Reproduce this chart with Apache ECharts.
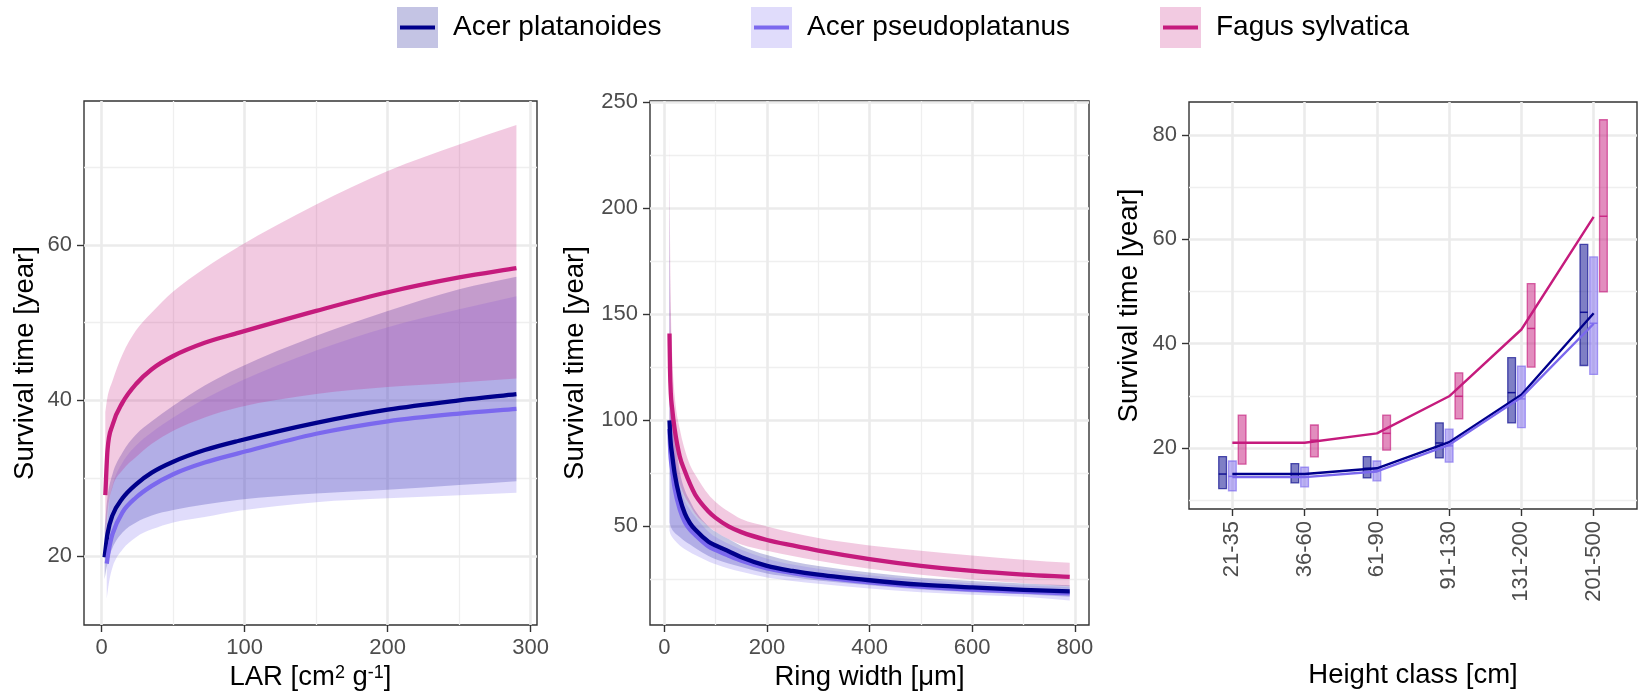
<!DOCTYPE html>
<html><head><meta charset="utf-8">
<script src="https://cdn.jsdelivr.net/npm/echarts@6/dist/echarts.min.js"></script>
<style>html,body{margin:0;padding:0;background:#fff}#c{width:1644px;height:696px}</style>
</head><body><div id="c"></div>
<script>
// ---------------- DATA ----------------
const species = ['Acer platanoides', 'Acer pseudoplatanus', 'Fagus sylvatica'];
const speciesColors = ['#00008B', '#7B68EE', '#C51B7D'];

// Panel 1: survival time vs LAR
const larX_AP   = [2, 4, 7.5, 14.5, 24, 35, 50, 72, 96, 150, 200, 250, 290];
const larFit_AP = [19.8, 22.8, 25.2, 27.4, 29.2, 30.7, 32.1, 33.6, 34.8, 37.1, 38.8, 40.0, 40.8];
const larLow_AP = [17.0, 19.0, 21.0, 23.0, 24.3, 25.2, 25.9, 26.6, 27.2, 28.0, 28.5, 29.1, 29.6];
const larUpp_AP = [23.5, 27.5, 30.5, 33.3, 35.6, 37.3, 39.3, 41.9, 44.2, 48.3, 51.5, 54.3, 55.9];

const larX_PS   = [3.5, 5, 7.5, 14.5, 24, 35, 50, 72, 96, 150, 200, 250, 290];
const larFit_PS = [19.0, 20.8, 22.8, 25.6, 27.5, 29.0, 30.5, 32.0, 33.2, 35.7, 37.3, 38.3, 38.9];
const larLow_PS = [14.5, 16.5, 18.5, 20.8, 22.4, 23.4, 24.3, 25.0, 25.8, 26.9, 27.4, 27.8, 28.1];
const larUpp_PS = [22.0, 26.5, 29.0, 32.0, 34.2, 35.9, 37.8, 40.2, 42.4, 46.4, 49.4, 51.7, 53.4];

const larX_FS   = [2.5, 4, 7.5, 14.5, 24, 35, 50, 72, 96, 150, 200, 250, 290];
const larFit_FS = [27.8, 33.5, 36.8, 39.7, 42.1, 44.0, 45.7, 47.4, 48.7, 51.5, 53.9, 55.8, 57.0];
const larLow_FS = [21.5, 25.5, 28.8, 31.0, 32.7, 34.4, 36.1, 37.8, 39.1, 40.8, 41.7, 42.3, 42.8];
const larUpp_FS = [38.5, 40.4, 42.5, 45.9, 49.0, 51.3, 54.0, 57.0, 59.8, 65.2, 69.5, 72.9, 75.4];

// Panel 2: survival time vs ring width
const ringX      = [10, 11, 12.5, 15, 20, 30, 40, 50, 60, 86, 100, 125, 150, 200, 250, 300, 400, 500, 600, 700, 790];
const ringFit_AP = [100, 94, 89, 84, 75, 63.5, 56, 51.5, 48.5, 42.8, 41, 38.3, 35.5, 31.4, 29, 27.2, 24.6, 22.5, 21.2, 20.1, 19.4];
const ringLow_AP = [52, 51, 50, 48.5, 47, 45, 43, 41.5, 39.8, 36, 34.5, 32.5, 30.8, 27.8, 26, 24.5, 22.2, 20.2, 19, 18, 16.8];
const ringUpp_AP = [225, 170, 135, 112, 95, 76, 67, 62, 57.5, 50, 47.5, 44, 40.8, 36.5, 33.5, 31.3, 28.2, 25.8, 24.3, 23.1, 22.3];
const ringFit_PS = [96, 88, 82, 77, 68, 58, 52, 48.5, 46, 40.5, 38.8, 36.2, 33.8, 30.2, 28, 26.2, 23.6, 21.6, 20.2, 19.2, 18.4];
const ringLow_PS = [48, 47, 46, 45, 43.5, 41, 39.2, 37.8, 36.5, 33.5, 32.2, 30.2, 28.6, 25.9, 24.3, 22.9, 20.7, 19, 17.8, 16.8, 15.1];
const ringUpp_PS = [200, 155, 125, 104, 88, 70, 62, 58, 54.5, 47.5, 45, 41.8, 39, 34.8, 32, 30, 27, 24.8, 23.2, 22.1, 21.3];
const ringFit_FS = [141, 124, 113, 106, 96, 83, 76, 70, 65, 57, 54, 50, 47.3, 43.6, 41, 38.6, 34.6, 31.4, 29, 27.3, 26.2];
const ringLow_FS = [88, 86, 84, 82, 78, 70, 64, 60, 56, 50, 47.5, 44, 41.5, 38.5, 36, 33.8, 30, 27.2, 25, 23.2, 21.8];
const ringUpp_FS = [238, 188, 155, 132, 112, 96, 86, 79, 74.5, 65, 61.5, 57, 53.5, 50, 47, 44.5, 41, 38.5, 36.3, 34.3, 32.8];

// Panel 3: survival time by height class
const heightClasses = ['21-35', '36-60', '61-90', '91-130', '131-200', '201-500'];
const hcMid_AP = [15.0, 15.0, 16.1, 20.95, 30.6, 46.0];
const hcLow_AP = [12.2, 13.3, 14.25, 18.1, 24.8, 35.8];
const hcUpp_AP = [18.35, 17.0, 18.35, 24.8, 37.3, 59.0];
const hcMid_PS = [14.55, 14.5, 15.7, 20.4, 29.4, 43.9];
const hcLow_PS = [11.8, 12.55, 13.7, 17.3, 23.9, 34.1];
const hcUpp_PS = [17.5, 16.3, 17.5, 23.6, 35.7, 56.6];
const hcMid_FS = [21.0, 21.5, 22.8, 29.9, 42.9, 64.4];
const hcLow_FS = [16.9, 18.3, 19.6, 25.6, 35.5, 49.9];
const hcUpp_FS = [26.3, 24.4, 26.3, 34.4, 51.5, 82.9];
const hcLine_AP = [15.0, 15.0, 16.1, 21.1, 30.2, 45.8];
const hcLine_PS = [14.4, 14.4, 15.5, 20.6, 29.7, 43.8];
const hcLine_FS = [21.0, 21.0, 22.8, 29.9, 42.7, 64.3];

// Tick labels
const larTicks = [0, 100, 200, 300], larMinor = [50, 150, 250];
const larYTicks = [20, 40, 60], larYMinor = [30, 50, 70];
const ringTicks = [0, 200, 400, 600, 800], ringMinor = [100, 300, 500, 700];
const ringYTicks = [50, 100, 150, 200, 250], ringYMinor = [25, 75, 125, 175, 225];
const hcTicks = [0, 1, 2, 3, 4, 5];
const hcYTicks = [20, 40, 60, 80], hcYMinor = [10, 30, 50, 70];

// ---------------- STYLE / LAYOUT ----------------
const FONT = 'Liberation Sans, Arial, Helvetica, sans-serif';
const RIBBON_A = 0.23, BAR_A = 0.5;
function rgba(hex, a) {
  const n = parseInt(hex.slice(1), 16);
  return `rgba(${(n >> 16) & 255},${(n >> 8) & 255},${n & 255},${a})`;
}

// monotone cubic (Fritsch-Carlson) tangents for pixel points with increasing x
function tangents(p) {
  const n = p.length, d = [], m = new Array(n);
  for (let k = 0; k < n - 1; k++) {
    const h = p[k + 1][0] - p[k][0];
    d.push(h === 0 ? 0 : (p[k + 1][1] - p[k][1]) / h);
  }
  m[0] = d[0]; m[n - 1] = d[n - 2];
  for (let k = 1; k < n - 1; k++) m[k] = (d[k - 1] * d[k] <= 0) ? 0 : (d[k - 1] + d[k]) / 2;
  for (let k = 0; k < n - 1; k++) {
    if (d[k] === 0) { m[k] = 0; m[k + 1] = 0; continue; }
    const a = m[k] / d[k], b = m[k + 1] / d[k], s = a * a + b * b;
    if (s > 9) { const t = 3 / Math.sqrt(s); m[k] = t * a * d[k]; m[k + 1] = t * b * d[k]; }
  }
  return m;
}
function curve(p, startCmd) {
  const m = tangents(p);
  let s = `${startCmd}${p[0][0]},${p[0][1]}`;
  for (let k = 0; k < p.length - 1; k++) {
    const h = p[k + 1][0] - p[k][0];
    s += ` C${p[k][0] + h / 3},${p[k][1] + m[k] * h / 3} ${p[k + 1][0] - h / 3},${p[k + 1][1] - m[k + 1] * h / 3} ${p[k + 1][0]},${p[k + 1][1]}`;
  }
  return { s, m };
}
function curveBack(p) {
  const m = tangents(p);
  const n = p.length;
  let s = ` L${p[n - 1][0]},${p[n - 1][1]}`;
  for (let k = n - 2; k >= 0; k--) {
    const h = p[k + 1][0] - p[k][0];
    s += ` C${p[k + 1][0] - h / 3},${p[k + 1][1] - m[k + 1] * h / 3} ${p[k][0] + h / 3},${p[k][1] + m[k] * h / 3} ${p[k][0]},${p[k][1]}`;
  }
  return s;
}

const grids = [
  { left: 84, top: 101, width: 453, height: 524 },
  { left: 650, top: 101, width: 439, height: 524 },
  { left: 1189, top: 102, width: 448, height: 407 }
].map(g => Object.assign({ show: true, borderColor: '#333333', borderWidth: 1.4, backgroundColor: 'transparent', containLabel: false, outerBoundsMode: 'none' }, g));

function majorAxis(gi, isX, min, max, ticks, extra) {
  const base = {
    type: 'value', gridIndex: gi, min: min, max: max,
    position: isX ? 'bottom' : 'left',
    axisLine: { show: false, onZero: false },
    axisTick: { show: true, length: 7, lineStyle: { color: '#333333', width: 1.4 }, customValues: ticks },
    axisLabel: { show: true, customValues: ticks, color: '#4D4D4D', fontSize: 22, fontFamily: FONT, margin: 12, showMinLabel: true, showMaxLabel: true },
    splitLine: { show: true, lineStyle: { color: '#EBEBEB', width: 2.6 } },
    minorSplitLine: { show: false },
    nameLocation: 'middle',
    nameTextStyle: { color: '#000000', fontSize: 27.5, fontFamily: FONT },
    silent: true, z: 1
  };
  return Object.assign(base, extra || {});
}
function minorAxis(gi, isX, min, max, ticks) {
  return {
    type: 'value', gridIndex: gi, min: min, max: max,
    position: isX ? 'top' : 'right',
    axisLine: { show: false, onZero: false },
    axisTick: { show: false, customValues: ticks },
    axisLabel: { show: false, customValues: ticks },
    splitLine: { show: true, lineStyle: { color: '#EFEFEF', width: 1.3 } },
    silent: true, z: 0
  };
}

const xAxes = [
  majorAxis(0, true, -12.4, 304.4, larTicks, {
    name: '{t|LAR [cm}{s|2}{t| g}{s|-1}{t|]}', nameGap: 37,
    nameTextStyle: { color: '#000', fontSize: 27.5, fontFamily: FONT,
      rich: { t: { fontSize: 27.5, fontFamily: FONT, color: '#000' }, s: { fontSize: 18, fontFamily: FONT, color: '#000', verticalAlign: 'top', padding: [0, 0, 10, 0] } } }
  }),
  minorAxis(0, true, -12.4, 304.4, larMinor),
  majorAxis(1, true, -28, 827.6, ringTicks, { name: 'Ring width [μm]', nameGap: 37 }),
  minorAxis(1, true, -28, 827.6, ringMinor),
  majorAxis(2, true, -0.6, 5.6, hcTicks, {
    name: 'Height class [cm]', nameGap: 152,
    axisLabel: { show: true, customValues: hcTicks, color: '#4D4D4D', fontSize: 22, fontFamily: FONT, margin: 12, rotate: 90,
      formatter: v => heightClasses[Math.round(v)] }
  })
];
const yAxes = [
  majorAxis(0, false, 11.1, 78.5, larYTicks, { name: 'Survival time [year]', nameGap: 45 }),
  minorAxis(0, false, 11.1, 78.5, larYMinor),
  majorAxis(1, false, 3.5, 250.6, ringYTicks, { name: 'Survival time [year]', nameGap: 61 }),
  minorAxis(1, false, 3.5, 250.6, ringYMinor),
  majorAxis(2, false, 8.3, 86.3, hcYTicks, { name: 'Survival time [year]', nameGap: 46 }),
  minorAxis(2, false, 8.3, 86.3, hcYMinor)
];
const panelAxes = [[0, 0], [2, 2], [4, 4]];

const series = [];
// confidence ribbon: custom series, boundaries mapped through api.coord
function ribbon(panel, xs, low, upp, color) {
  const [xi, yi] = panelAxes[panel];
  series.push({
    type: 'custom', xAxisIndex: xi, yAxisIndex: yi, silent: true, z: 2, clip: true,
    data: xs.map((x, i) => [x, low[i], upp[i]]),
    encode: { x: 0, y: [1, 2] },
    renderItem: (params, api) => {
      if (params.dataIndex !== 0) return null;
      const up = xs.map((x, i) => api.coord([x, upp[i]]));
      const lo = xs.map((x, i) => api.coord([x, low[i]]));
      const d = curve(up, 'M').s + curveBack(lo) + ' Z';
      return { type: 'path', shape: { pathData: d }, style: { fill: rgba(color, RIBBON_A) } };
    }
  });
}
// fitted curve: custom series stroke
function fitCurve(panel, name, xs, ys, color, width) {
  const [xi, yi] = panelAxes[panel];
  series.push({
    type: 'custom', name: name, xAxisIndex: xi, yAxisIndex: yi, silent: true, z: 5, clip: true,
    data: xs.map((x, i) => [x, ys[i]]),
    encode: { x: 0, y: 1 },
    itemStyle: { color: color },
    renderItem: (params, api) => {
      if (params.dataIndex !== 0) return null;
      const p = xs.map((x, i) => api.coord([x, ys[i]]));
      return { type: 'path', shape: { pathData: curve(p, 'M').s },
        style: { fill: 'none', stroke: color, lineWidth: width, lineCap: 'butt', lineJoin: 'round' } };
    }
  });
}
function polyLine(panel, name, xs, ys, color, width) {
  const [xi, yi] = panelAxes[panel];
  series.push({
    type: 'line', name: name, xAxisIndex: xi, yAxisIndex: yi, data: xs.map((x, i) => [x, ys[i]]),
    symbol: 'none', smooth: false, silent: true,
    lineStyle: { color: color, width: width, cap: 'butt', join: 'round' }, itemStyle: { color: color },
    emphasis: { disabled: true }, z: 5
  });
}

// Panel 1
ribbon(0, larX_AP, larLow_AP, larUpp_AP, speciesColors[0]);
ribbon(0, larX_PS, larLow_PS, larUpp_PS, speciesColors[1]);
ribbon(0, larX_FS, larLow_FS, larUpp_FS, speciesColors[2]);
fitCurve(0, species[0], larX_AP, larFit_AP, speciesColors[0], 4.3);
fitCurve(0, species[1], larX_PS, larFit_PS, speciesColors[1], 4.3);
fitCurve(0, species[2], larX_FS, larFit_FS, speciesColors[2], 4.3);
// Panel 2
ribbon(1, ringX, ringLow_AP, ringUpp_AP, speciesColors[0]);
ribbon(1, ringX, ringLow_PS, ringUpp_PS, speciesColors[1]);
ribbon(1, ringX, ringLow_FS, ringUpp_FS, speciesColors[2]);
fitCurve(1, species[1], ringX, ringFit_PS, speciesColors[1], 4.3);
fitCurve(1, species[0], ringX, ringFit_AP, speciesColors[0], 4.3);
fitCurve(1, species[2], ringX, ringFit_FS, speciesColors[2], 4.3);

// Panel 3: crossbars (dodged) + lines
const DODGE = [-0.135, 0, 0.135], BAR_W = 0.107;
const hcSets = [[hcLow_AP, hcMid_AP, hcUpp_AP], [hcLow_PS, hcMid_PS, hcUpp_PS], [hcLow_FS, hcMid_FS, hcUpp_FS]];
hcSets.forEach((set, s) => {
  const color = speciesColors[s];
  const off = DODGE[s];
  series.push({
    type: 'custom', xAxisIndex: 4, yAxisIndex: 4, silent: true, z: 3,
    data: heightClasses.map((c, i) => [i, set[0][i], set[1][i], set[2][i]]),
    encode: { x: 0, y: [1, 2, 3] },
    renderItem: (params, api) => {
      const i = api.value(0);
      const pLo = api.coord([i + off, api.value(1)]);
      const pMid = api.coord([i + off, api.value(2)]);
      const pHi = api.coord([i + off, api.value(3)]);
      const w = api.size([BAR_W, 0])[0];
      return { type: 'group', children: [
        { type: 'rect', shape: { x: pHi[0] - w / 2, y: pHi[1], width: w, height: pLo[1] - pHi[1] },
          style: { fill: rgba(color, BAR_A), stroke: rgba(color, 0.65), lineWidth: 1.3 } },
        { type: 'line', shape: { x1: pMid[0] - w / 2, y1: pMid[1], x2: pMid[0] + w / 2, y2: pMid[1] },
          style: { stroke: rgba(color, 0.85), lineWidth: 1.5 } }
      ] };
    }
  });
});
polyLine(2, species[0], hcTicks, hcLine_AP, speciesColors[0], 2.4);
polyLine(2, species[1], hcTicks, hcLine_PS, speciesColors[1], 2.4);
polyLine(2, species[2], hcTicks, hcLine_FS, speciesColors[2], 2.4);

// Legend
const legendLeft = [397, 751, 1160];
const KEY = 41;
const legends = species.map((name, s) => ({
  left: legendLeft[s], top: 7, orient: 'horizontal', itemWidth: KEY, itemHeight: KEY, itemGap: 0,
  selectedMode: false, padding: 0,
  textStyle: { color: '#000000', fontSize: 28, fontFamily: FONT, padding: [0, 0, 0, 10] },
  data: [{ name: name, icon: 'rect', itemStyle: { color: rgba(speciesColors[s], RIBBON_A), borderWidth: 0, opacity: 1 } }]
}));
const graphics = species.map((name, s) => ({
  type: 'rect', z: 100, silent: true,
  shape: { x: legendLeft[s] + 3, y: 7 + KEY / 2 - 2, width: KEY - 6, height: 4 },
  style: { fill: speciesColors[s] }
}));

const chart = echarts.init(document.getElementById('c'), null, { renderer: 'canvas', width: 1644, height: 696 });
chart.setOption({
  backgroundColor: '#ffffff',
  animation: false,
  textStyle: { fontFamily: FONT },
  grid: grids,
  xAxis: xAxes,
  yAxis: yAxes,
  legend: legends,
  graphic: graphics,
  series: series
});
</script>
</body></html>
